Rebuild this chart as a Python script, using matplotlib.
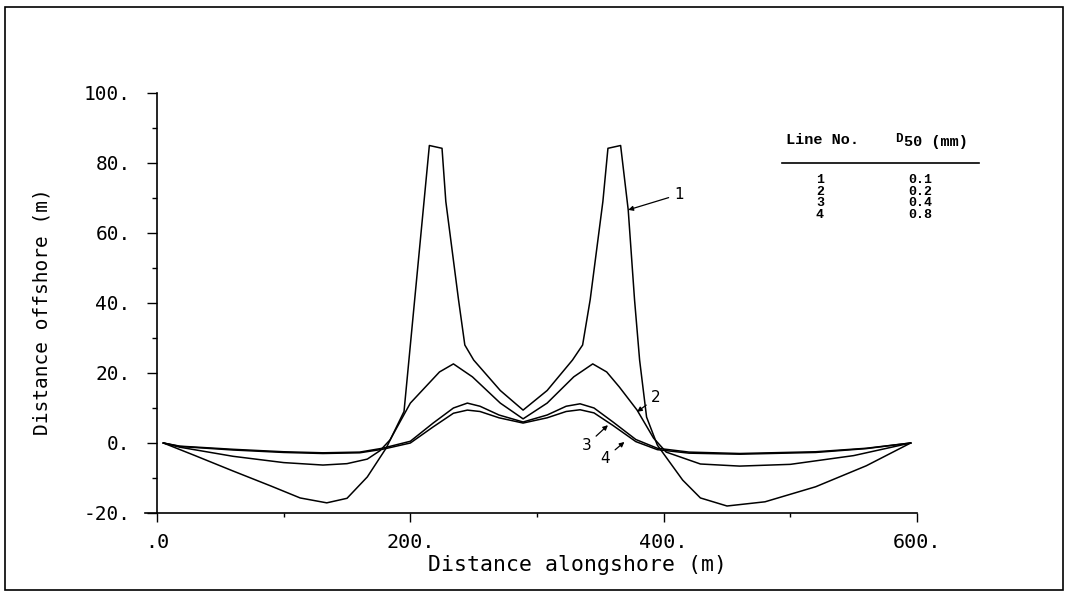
import numpy as np
import matplotlib
matplotlib.use('Agg')
import matplotlib.pyplot as plt
from matplotlib.patches import Rectangle

# Shoreline position for four grain sizes
x1 = [5, 30, 60, 90, 113, 134, 150, 166, 181, 195, 215, 225, 228, 238, 243,
      250, 271, 289, 308, 328, 336, 342, 352, 356, 366, 372, 377, 381, 386.5,
      395, 415, 429, 450, 480, 520, 560, 595]
y1 = [0, -3.6, -8.0, -12.3, -15.7, -17.1, -15.8, -9.7, -1.4, 9.0, 85, 84.2, 69,
      41, 28, 23.7, 15, 9.4, 15, 23.7, 28, 41, 69, 84.2, 85, 66.6, 40.9, 23.7,
      7.4, -0.6, -10.6, -15.7, -18, -16.8, -12.5, -6.5, 0]

x2 = [5, 18, 60, 100, 131, 150, 166, 176, 184, 200, 223, 234, 249, 271, 289,
      308, 329, 344, 355, 365, 379, 392, 402, 429, 460, 500, 550, 595]
y2 = [0, -1.2, -3.8, -5.6, -6.3, -5.9, -4.6, -2.2, 0.9, 11.4, 20.3, 22.6, 18.9,
      11.4, 6.9, 11.4, 18.9, 22.6, 20.3, 16, 9.4, 1.4, -2.6, -6.0, -6.6, -6.1,
      -3.6, 0]

x3 = [5, 18, 60, 100, 131, 160, 178, 200, 218, 234, 245, 255, 270, 289, 308,
      323, 334, 345, 360, 378, 395, 420, 460, 520, 560, 595]
y3 = [0, -0.9, -1.8, -2.5, -2.8, -2.6, -1.5, 0.5, 5.7, 10, 11.4, 10.5, 8, 6, 8,
      10.5, 11.2, 10, 6, 1, -1.5, -2.6, -3, -2.5, -1.5, 0]

x4 = [5, 18, 60, 100, 131, 160, 178, 200, 218, 234, 245, 255, 270, 289, 308,
      323, 334, 345, 360, 378, 395, 420, 460, 520, 560, 595]
y4 = [0, -1.0, -2.0, -2.7, -3.0, -2.8, -1.8, 0.0, 4.6, 8.5, 9.4, 9.0, 7.2, 5.7,
      7.2, 9.0, 9.5, 8.6, 5, 0.4, -1.9, -2.9, -3.2, -2.7, -1.6, 0]

line_no = ['1', '2', '3', '4']
d50 = ['0.1', '0.2', '0.4', '0.8']

# label text position and arrow tip (data coords)
lab_xy = [(412, 71), (394, 12.9), (339, -0.6), (354, -4.3)]
tip_xy = [(372, 66.6), (379, 8.9), (356, 5.1), (369, 0.3)]

mono = 'DejaVu Sans Mono'

fig = plt.figure(figsize=(10.69, 5.96), dpi=100)
ax = fig.add_axes([145/1069, 1-513/596, 772/1069, 420/596])

for xs, ys in zip([x1, x2, x3, x4], [y1, y2, y3, y4]):
    ax.plot(xs, ys, color='black', lw=1.1)

ax.set_xlim(-9.5, 600)
ax.set_ylim(-20, 100)
ax.spines['top'].set_visible(False)
ax.spines['right'].set_visible(False)
ax.spines['left'].set_position(('data', 0))
ax.spines['left'].set_linewidth(1.2)
ax.spines['bottom'].set_linewidth(1.2)

ax.set_xticks([0, 200, 400, 600])
ax.set_xticklabels(['.0', '200.', '400.', '600.'])
ax.set_xticks([100, 300, 500], minor=True)
ax.set_yticks([-20, 0, 20, 40, 60, 80, 100])
ax.set_yticklabels(['-20.', '0.', '20.', '40.', '60.', '80.', '100.'])
ax.set_yticks([-10, 10, 30, 50, 70, 90], minor=True)
ax.tick_params(axis='x', which='major', direction='out', length=6.5, width=1,
               pad=8, labelsize=14.5)
ax.tick_params(axis='x', which='minor', direction='out', length=3, width=1)
ax.tick_params(axis='y', which='major', direction='out', length=7, width=1,
               pad=12, labelsize=14)
ax.tick_params(axis='y', which='minor', direction='out', length=3.5, width=1)
for t in ax.get_xticklabels() + ax.get_yticklabels():
    t.set_family(mono)

fig.text(578/1069, 1-565/596, 'Distance alongshore (m)', family=mono,
         fontsize=15.5, ha='center', va='center')
fig.text(42/1069, 1-312/596, 'Distance offshore (m)', family=mono,
         fontsize=14, ha='center', va='center', rotation=90)

# line labels with arrows
for lab, (tx, ty), (px, py) in zip(line_no, lab_xy, tip_xy):
    ax.annotate(lab, xy=(px, py), xytext=(tx, ty), ha='center', va='center',
                fontsize=11,
                arrowprops=dict(arrowstyle='-|>', color='black', lw=0.9,
                                mutation_scale=7, shrinkA=2, shrinkB=0))

# table
tkw = dict(family='Liberation Mono', fontweight='bold', color='black')
fig.text(822/1069, 1-140/596, 'Line No.', fontsize=11, ha='center',
         va='center', **tkw)
fig.text(895/1069, 1-139/596, 'D', fontsize=9, ha='left', va='center', **tkw)
fig.text(904/1069, 1-142/596, '50 (mm)', fontsize=11, ha='left',
         va='center', **tkw)
fig.add_artist(plt.Line2D([782/1069, 979/1069], [1-163/596, 1-163/596],
                          color='black', lw=1.2))
fig.text(820/1069, 1-174/596, '\n'.join(line_no), fontsize=9.5, ha='center',
         va='top', multialignment='center', linespacing=0.95, **tkw)
fig.text(920/1069, 1-174/596, '\n'.join(d50), fontsize=9.5, ha='center',
         va='top', multialignment='center', linespacing=0.95, **tkw)

# outer frame
fig.add_artist(Rectangle((5/1069, 1-590/596), 1058/1069, 583/596,
                         fill=False, lw=1.2, edgecolor='black',
                         transform=fig.transFigure))

fig.savefig('out.png', dpi=100)
